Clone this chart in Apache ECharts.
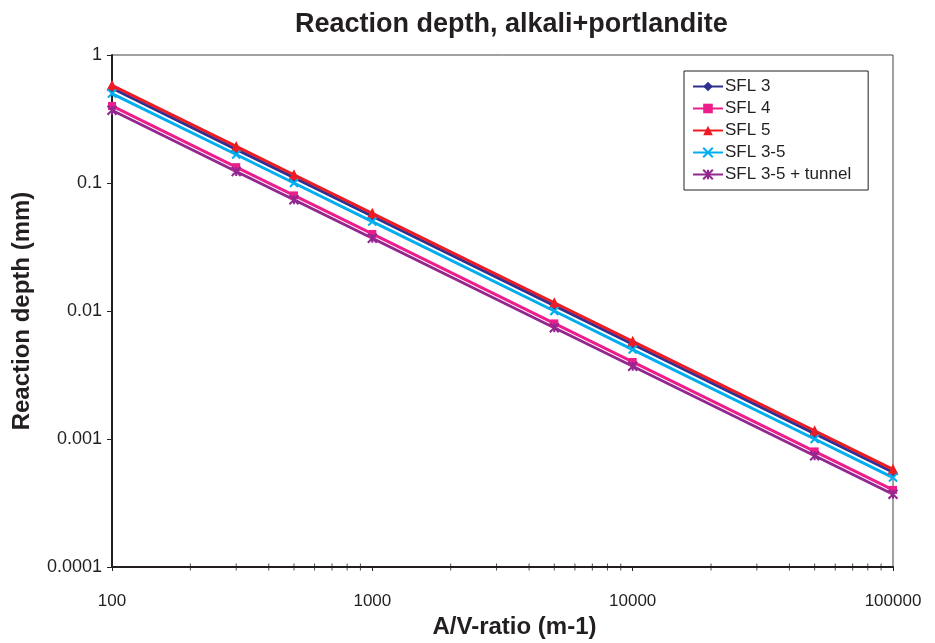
<!DOCTYPE html>
<html>
<head>
<meta charset="utf-8">
<script src="https://cdn.jsdelivr.net/npm/echarts@6/dist/echarts.min.js"></script>
<style>
  html, body { margin: 0; padding: 0; background: #fff; }
  #chart { width: 935px; height: 643px; }
</style>
</head>
<body>
<div id="chart"></div>
<script>
// A/V ratio (m-1)
var avRatio = [100, 300, 500, 1000, 5000, 10000, 50000, 100000];

// reaction depth (mm)
var sfl3 = [0.55, 0.183, 0.11, 0.055, 0.011, 0.0055, 0.0011, 0.00055];
var sfl4 = [0.40, 0.133, 0.08, 0.040, 0.008, 0.0040, 0.0008, 0.00040];
var sfl5 = [0.58, 0.193, 0.116, 0.058, 0.0116, 0.0058, 0.00116, 0.00058];
var sfl35 = [0.50, 0.167, 0.10, 0.050, 0.010, 0.0050, 0.0010, 0.00050];
var sfl35Tunnel = [0.37, 0.123, 0.074, 0.037, 0.0074, 0.0037, 0.00074, 0.00037];

// minor ticks of the log x axis
var xMinorTicks = [200, 300, 400, 500, 600, 700, 800, 900,
    2000, 3000, 4000, 5000, 6000, 7000, 8000, 9000,
    20000, 30000, 40000, 50000, 60000, 70000, 80000, 90000];

var xMin = 100, xMax = 100000;
var yMin = 0.0001, yMax = 1;

var font = "Liberation Sans, Arial, sans-serif";
var ink = "#231f20";

function pairs(ys) {
    return avRatio.map(function (x, i) { return [x, ys[i]]; });
}

function mkSeries(name, ys, color, symbol, size, stroke) {
    return {
        name: name,
        type: "line",
        data: pairs(ys),
        symbol: symbol,
        symbolSize: size,
        lineStyle: { color: color, width: 3 },
        itemStyle: stroke ? { color: color, borderColor: color, borderWidth: 2 } : { color: color },
        emphasis: { disabled: true }
    };
}

var chart = echarts.init(document.getElementById("chart"));

chart.setOption({
    animation: false,
    backgroundColor: "#fff",
    title: {
        text: "Reaction depth, alkali+portlandite",
        left: 290,
        top: 6,
        textStyle: { fontFamily: font, fontSize: 27, fontWeight: "bold", color: ink }
    },
    legend: {
        orient: "vertical",
        left: 684,
        top: 71,
        padding: [7, 17, 7, 8],
        itemWidth: 30,
        itemHeight: 12,
        itemGap: 5,
        borderColor: ink,
        borderWidth: 1,
        textStyle: { fontFamily: font, fontSize: 17, color: ink, padding: [0, 0, 0, -3] },
        data: ["SFL 3", "SFL 4", "SFL 5", "SFL 3-5", "SFL 3-5 + tunnel"]
    },
    grid: {
        left: 112, right: 42, top: 55, bottom: 76,
        outerBoundsMode: "none",
        show: true,
        borderColor: "#444",
        borderWidth: 1
    },
    xAxis: {
        type: "log",
        logBase: 10,
        min: xMin,
        max: xMax,
        name: "A/V-ratio (m-1)",
        nameLocation: "middle",
        nameGap: 48,
        nameTextStyle: { fontFamily: font, fontSize: 24, fontWeight: "bold", color: ink, padding: [0, 0, 0, 24] },
        axisLine: { lineStyle: { color: ink, width: 2 } },
        axisTick: { show: true, length: 4, inside: false, lineStyle: { color: ink } },
        axisLabel: {
            fontFamily: font, fontSize: 17, color: ink, margin: 26,
            formatter: function (v) { return String(Math.round(v)); }
        },
        splitLine: { show: false }
    },
    yAxis: {
        type: "log",
        logBase: 10,
        min: yMin,
        max: yMax,
        name: "Reaction depth (mm)",
        nameLocation: "middle",
        nameGap: 78,
        nameTextStyle: { fontFamily: font, fontSize: 24, fontWeight: "bold", color: ink },
        axisLine: { lineStyle: { color: ink, width: 2 } },
        axisTick: { show: true, length: 5, lineStyle: { color: ink } },
        axisLabel: {
            fontFamily: font, fontSize: 18, color: ink, margin: 10,
            formatter: function (v) { return String(parseFloat(v.toPrecision(6))); }
        },
        splitLine: { show: false }
    },
    series: [
        {
            name: "minor",
            type: "scatter",
            silent: true,
            clip: false,
            z: 10,
            data: xMinorTicks.map(function (x) { return [x, yMin]; }),
            symbol: "rect",
            symbolSize: [1, 7],
            itemStyle: { color: ink }
        },
        mkSeries("SFL 3", sfl3, "#2e3192", "diamond", 9, false),
        mkSeries("SFL 4", sfl4, "#ec1e8c", "rect", 8, false),
        mkSeries("SFL 5", sfl5, "#ed1c24", "triangle", 11, false),
        mkSeries("SFL 3-5", sfl35, "#00aeef", "path://M0,0L10,10M10,0L0,10", 8, true),
        mkSeries("SFL 3-5 + tunnel", sfl35Tunnel, "#92278f", "path://M0,0L10,10M10,0L0,10M5,0L5,10", 9, true)
    ]
});
</script>
</body>
</html>
